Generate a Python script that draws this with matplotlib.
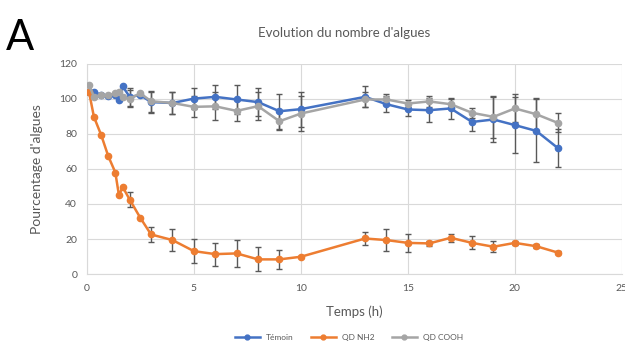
import matplotlib
matplotlib.use('Agg')
import matplotlib.pyplot as plt
from matplotlib.lines import Line2D

plt.rcParams['font.family'] = ['Lato', 'DejaVu Sans']

# Time points (h)
temps = [0.1, 0.33, 0.67, 1, 1.33, 1.5, 1.67, 2, 2.5, 3, 4, 5, 6, 7, 8, 9, 10,
         13, 14, 15, 16, 17, 18, 19, 20, 21, 22]

temoin = [104, 104, 102, 101.5, 102, 99, 107, 101, 102, 98, 97.5, 100, 101, 99.5, 98,
          92.8, 94, 101, 96.8, 93.8, 93.4, 94.4, 86.7, 88.1, 84.9, 81.6, 71.9]
temoin_err = [0, 0, 0, 0, 0, 0, 0, 5, 0, 6, 6, 6, 7, 8, 8, 10, 10,
              6, 4.5, 3.7, 7, 6, 5, 13, 16, 18, 11]

qd_nh2 = [103.8, 89.6, 79.2, 67.2, 57.9, 44.8, 49.7, 42.5, 32, 22.6, 19.4, 13.1, 11.4,
          11.8, 8.4, 8.4, 9.9, 20.3, 19.4, 17.8, 17.5, 20.7, 17.8, 15.6, 17.8, 15.9, 12.3]
qd_nh2_err = [0, 0, 0, 0, 0, 0, 0, 4.3, 0, 4.5, 6.2, 7, 6.5, 7.8, 6.8, 5.5, 0.5,
              3.6, 6.2, 5.2, 1.5, 2.4, 3.7, 3.1, 1, 1, 1]

qd_cooh = [108, 101, 102, 102, 103, 104, 101, 100, 103, 98.5, 97.5, 95.3, 95.6, 93, 95.7,
           87.1, 91.5, 99.5, 99.5, 97.2, 98.4, 96.8, 91.9, 89.6, 94.4, 91.1, 86.2]
qd_cooh_err = [0, 0, 0, 0, 0, 0, 0, 5, 0, 6, 6.5, 6, 8, 6, 8, 5, 10,
               4, 3, 2, 3, 3, 3, 12, 8, 9, 5.5]

series = [
    ('Témoin', temoin, temoin_err, '#4472C4'),
    ('QD NH2', qd_nh2, qd_nh2_err, '#ED7D31'),
    ('QD COOH', qd_cooh, qd_cooh_err, '#A5A5A5'),
]

fig = plt.figure(figsize=(6.25, 3.47), dpi=100)
ax = fig.add_axes([0.139, 0.21, 0.856, 0.607])

handles = []
for name, vals, err, col in series:
    ax.errorbar(temps, vals, yerr=err, color=col, marker='o', markersize=4.5,
                linewidth=1.8, ecolor='#595959', elinewidth=1,
                capsize=2.5, capthick=1, zorder=3)
    handles.append(Line2D([], [], color=col, marker='o', markersize=3.5,
                          linewidth=1.8, label=name))

ax.set_xlim(0, 25)
ax.set_ylim(0, 120)
ax.set_xticks(range(0, 26, 5))
ax.set_yticks(range(0, 121, 20))
ax.grid(True, color='#D9D9D9', linewidth=0.8)
ax.set_axisbelow(True)
for s in ax.spines.values():
    s.set_visible(False)
ax.spines['left'].set_visible(True)
ax.spines['left'].set_color('#D9D9D9')
ax.spines['bottom'].set_visible(True)
ax.spines['bottom'].set_color('#D9D9D9')
ax.tick_params(length=0, labelsize=7.5, labelcolor='#595959', pad=7)

ax.set_xlabel('Temps (h)', fontsize=9.5, color='#595959', labelpad=9)
ax.set_ylabel("Pourcentage d'algues", fontsize=10, color='#595959', labelpad=12)

fig.text(0.55, 0.905, "Evolution du nombre d'algues", ha='center', va='center',
         fontsize=9.5, color='#595959')
fig.text(0.01, 0.89, 'A', ha='left', va='center', fontsize=30, color='black')

ax.legend(handles=handles, loc='center', bbox_to_anchor=(0.49, -0.30), ncol=3,
          frameon=False, fontsize=6, labelcolor='#595959', handlelength=3,
          columnspacing=2)

fig.savefig('out.png', dpi=100)
